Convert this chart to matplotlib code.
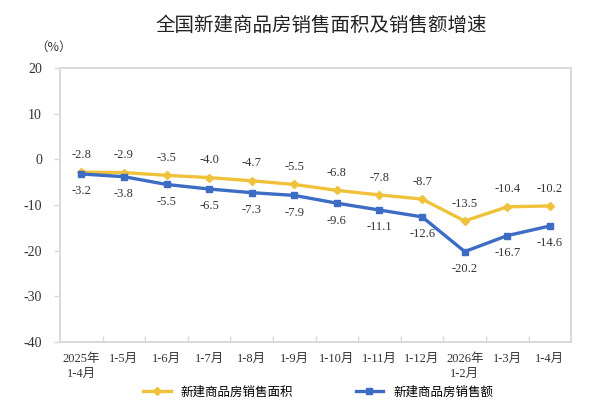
import matplotlib
matplotlib.use("Agg")
import matplotlib.pyplot as plt
from matplotlib.ticker import MultipleLocator, FixedLocator

# data
categories = ["2025年\n1-4月", "1-5月", "1-6月", "1-7月", "1-8月", "1-9月",
              "1-10月", "1-11月", "1-12月", "2026年\n1-2月", "1-3月", "1-4月"]
area_growth = [-2.8, -2.9, -3.5, -4.0, -4.7, -5.5, -6.8, -7.8, -8.7, -13.5, -10.4, -10.2]
sales_growth = [-3.2, -3.8, -5.5, -6.5, -7.3, -7.9, -9.6, -11.1, -12.6, -20.2, -16.7, -14.6]
area_name = "新建商品房销售面积"
sales_name = "新建商品房销售额"

YELLOW = "#F0C23C"
BLUE = "#3D6CC4"
GRAY = "#d9d9d9"
SERIF = ["Liberation Serif", "Noto Sans CJK SC"]
SANS = ["Noto Sans CJK SC", "DejaVu Sans"]

plt.rcParams["axes.unicode_minus"] = False

fig = plt.figure(figsize=(6, 4), dpi=100)
ax = fig.add_axes([0.1, 0.145, 0.852, 0.685])

x = list(range(len(categories)))
ax.plot(x, area_growth, color=YELLOW, lw=2.4, marker="D", ms=4.5, label=area_name)
ax.plot(x, sales_growth, color=BLUE, lw=2.4, marker="s", ms=4.5, label=sales_name)

# value labels: area above, sales below
for i, v in enumerate(area_growth):
    ax.annotate(f"{v:.1f}", (i, v), xytext=(0, 12.5), textcoords="offset points",
                ha="center", va="center", fontsize=9, family=SERIF, color="#333333")
for i, v in enumerate(sales_growth):
    ax.annotate(f"{v:.1f}", (i, v), xytext=(0, -12.5), textcoords="offset points",
                ha="center", va="center", fontsize=9, family=SERIF, color="#333333")

ax.set_xlim(-0.5, len(categories) - 0.5)
ax.set_ylim(-40, 20)
ax.yaxis.set_major_locator(MultipleLocator(10))

ax.set_xticks(x)
ax.set_xticklabels(categories, family=SERIF, fontsize=9, color="#333333", linespacing=1.3)
ax.xaxis.set_minor_locator(FixedLocator([i + 0.5 for i in x[:-1]]))
ax.tick_params(axis="x", which="major", length=0, pad=8)
ax.tick_params(axis="x", which="minor", direction="in", length=4, color=GRAY, width=1)

ax.tick_params(axis="y", direction="out", length=4, color=GRAY, width=1, pad=9,
               labelsize=10, labelcolor="#333333")
for lbl in ax.get_yticklabels():
    lbl.set_family(SERIF)

for s in ax.spines.values():
    s.set_color(GRAY)
    s.set_linewidth(1.4)

fig.text(0.535, 0.937, "全国新建商品房销售面积及销售额增速", ha="center", va="center",
         fontsize=14, family=SANS, color="#222222")
fig.text(0.09, 0.882, "（%）", ha="center", va="center", fontsize=9, family=SANS,
         color="#333333")

fig.legend(loc="center", bbox_to_anchor=(0.53, 0.02), ncol=2, frameon=False,
           columnspacing=5, handlelength=2.2, prop={"family": SANS, "size": 9})

fig.savefig("out.png", dpi=100)
